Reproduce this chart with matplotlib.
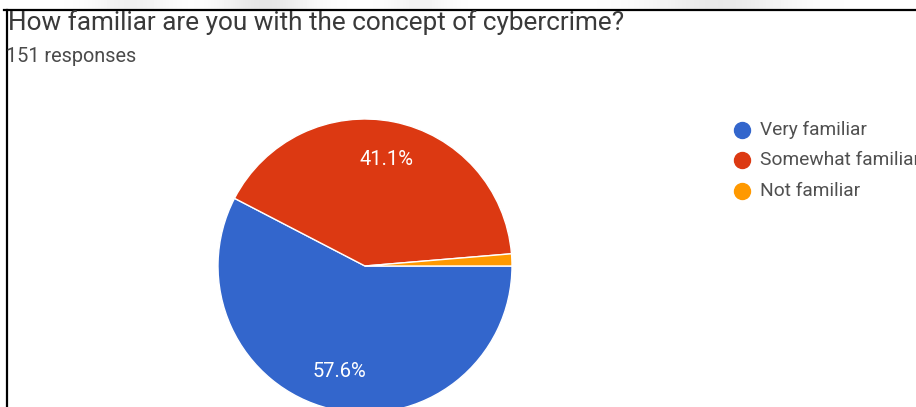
import matplotlib
matplotlib.use("Agg")
import numpy as np
import matplotlib.pyplot as plt
from matplotlib.lines import Line2D

# survey answers (151 responses)
labels = ["Very familiar", "Somewhat familiar", "Not familiar"]
counts = [87, 62, 2]
colors = ["#3366cc", "#dc3912", "#ff9900"]

title = "How familiar are you with the concept of cybercrime?"
subtitle = f"{sum(counts)} responses"

W, H = 916, 407
plt.rcParams["font.family"] = ["Roboto", "DejaVu Sans"]

fig = plt.figure(figsize=(W / 100, H / 100), dpi=100)
fig.patch.set_facecolor("white")


def fx(px):
    return px / W


def fy(py):
    # pixel rows counted from the top
    return (H - py) / H


# faint grey smudges in the strip above the frame line
strip = fig.add_axes([0, fy(10), 1, 10 / H])
xs = np.arange(W)
shade = np.zeros(W)
for c, w, a in [(130, 40, 0.06), (265, 45, 0.10), (420, 30, 0.05), (720, 70, 0.09)]:
    shade = np.maximum(shade, a * np.exp(-((xs - c) / w) ** 2))
strip.imshow(np.tile(1 - shade, (10, 1)), cmap="gray", vmin=0, vmax=1,
             aspect="auto", extent=(0, W, 0, 10))
strip.axis("off")

# pie, centre (365, 266), radius 147 px
cx, cy, r = 365, 266, 147
ax = fig.add_axes([fx(cx - r), fy(cy + r), (2 * r) / W, (2 * r) / H])
wedges, _, autotexts = ax.pie(
    counts,
    colors=colors,
    startangle=0,
    counterclock=False,
    radius=1.0,
    autopct=lambda p: f"{p:.1f}%" if p > 5 else "",
    pctdistance=0.74,
    wedgeprops=dict(edgecolor="white", linewidth=1.0),
    textprops=dict(color="white", fontsize=14.5),
)
ax.set_xlim(-1.0, 1.0)
ax.set_ylim(-1.0, 1.0)
ax.set_aspect("equal")
ax.axis("off")

# header
fig.text(fx(8), fy(30), title, fontsize=18.8, color="#3a3a3a", va="baseline", ha="left")
fig.text(fx(6), fy(62), subtitle, fontsize=14.3, color="#4a4a4a", va="baseline", ha="left")

# legend: dot + label per row
for i, (lab, col) in enumerate(zip(labels, colors)):
    y = 130 + i * 30.5
    fig.add_artist(Line2D([fx(742)], [fy(y)], marker="o", markersize=11.5,
                          color=col, linestyle="none", transform=fig.transFigure))
    fig.text(fx(760), fy(y), lab, fontsize=13.8, color="#505050", va="center", ha="left")

# frame lines along top and left
fig.add_artist(Line2D([fx(4), fx(W)], [fy(10), fy(10)], color="black", linewidth=1.6,
                      transform=fig.transFigure))
fig.add_artist(Line2D([fx(7), fx(7)], [fy(10), fy(H)], color="black", linewidth=1.6,
                      transform=fig.transFigure))

fig.savefig("out.png", dpi=100, facecolor="white")
